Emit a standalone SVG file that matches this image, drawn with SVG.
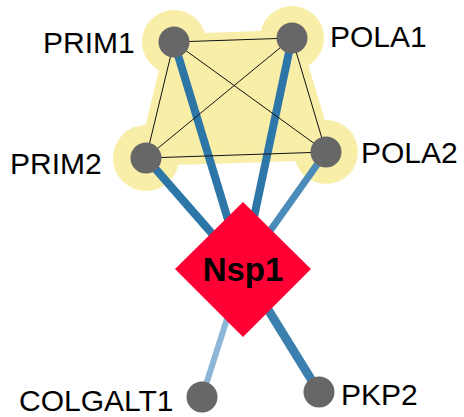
<svg xmlns="http://www.w3.org/2000/svg" width="464" height="417" viewBox="0 0 464 417">
  <style>
    .halo { fill: #f8eea7; }
    .hull { fill: #f8eea7; stroke: #f8eea7; stroke-width: 16; stroke-linejoin: round; }
    .link { stroke: #111; stroke-width: 1; fill: none; }
    .edge { fill: none; stroke-linecap: butt; }
    .dot { fill: #676767; }
    .label { font-family: "Liberation Sans", Arial, sans-serif; font-size: 30px; fill: #000; }
    .hub { fill: #ff0035; }
    .hub-label { font-family: "Liberation Sans", Arial, sans-serif; font-size: 33px; font-weight: bold; fill: #000; text-anchor: middle; }
  </style>

  <!-- complex highlight -->
  <g id="complex">
    <polygon class="hull" points="174,42 292,38 326,152 146,158"/>
    <circle class="halo" cx="174" cy="42" r="32"/>
    <circle class="halo" cx="292" cy="38" r="32"/>
    <circle class="halo" cx="146" cy="158" r="33"/>
    <circle class="halo" cx="326" cy="152" r="32"/>
  </g>

  <!-- connectors -->
  <g id="connectors">
    <line class="edge" x1="243" y1="269" x2="174" y2="42" stroke="#2d77a8" stroke-width="8"/>
    <line class="edge" x1="243" y1="269" x2="292" y2="38" stroke="#2d77a8" stroke-width="8"/>
    <line class="edge" x1="243" y1="269" x2="146" y2="158" stroke="#2d77a8" stroke-width="8"/>
    <line class="edge" x1="243" y1="269" x2="326" y2="152" stroke="#4a8bba" stroke-width="7"/>
    <line class="edge" x1="243" y1="269" x2="202" y2="397" stroke="#8db7d9" stroke-width="6"/>
    <line class="edge" x1="243" y1="269" x2="319" y2="392" stroke="#3a7fae" stroke-width="9"/>
    <line class="link" x1="174" y1="42" x2="292" y2="38"/>
    <line class="link" x1="174" y1="42" x2="146" y2="158"/>
    <line class="link" x1="174" y1="42" x2="326" y2="152"/>
    <line class="link" x1="292" y1="38" x2="146" y2="158"/>
    <line class="link" x1="292" y1="38" x2="326" y2="152"/>
    <line class="link" x1="146" y1="158" x2="326" y2="152"/>
  </g>

  <g id="PRIM1">
    <circle class="dot" cx="174" cy="42" r="15.5"/>
    <text class="label" x="43" y="53">PRIM1</text>
  </g>
  <g id="POLA1">
    <circle class="dot" cx="292" cy="38" r="15.5"/>
    <text class="label" x="330" y="47">POLA1</text>
  </g>
  <g id="PRIM2">
    <circle class="dot" cx="146" cy="158" r="15.5"/>
    <text class="label" x="10" y="174">PRIM2</text>
  </g>
  <g id="POLA2">
    <circle class="dot" cx="326" cy="152" r="15.5"/>
    <text class="label" x="361" y="163">POLA2</text>
  </g>
  <g id="COLGALT1">
    <circle class="dot" cx="202" cy="397" r="15.5"/>
    <text class="label" x="19" y="411">COLGALT1</text>
  </g>
  <g id="PKP2">
    <circle class="dot" cx="319" cy="392" r="15.5"/>
    <text class="label" x="341" y="405">PKP2</text>
  </g>

  <g id="Nsp1">
    <polygon class="hub" points="243,202 311,269 243,337 175,269"/>
    <text class="hub-label" x="243" y="281">Nsp1</text>
  </g>
</svg>
